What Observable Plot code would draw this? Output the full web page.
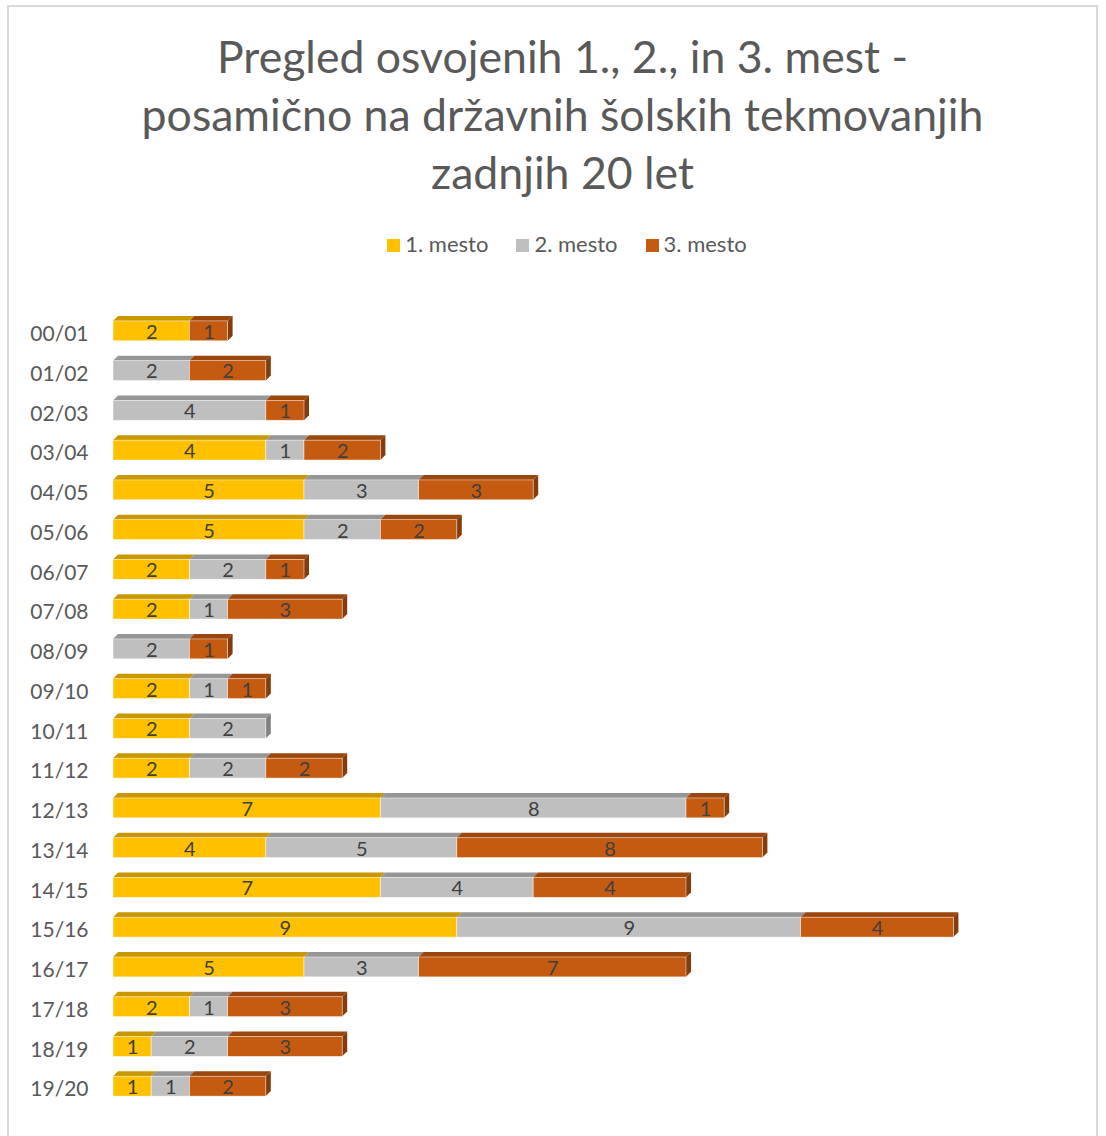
<!DOCTYPE html>
<html>
<head>
<meta charset="utf-8">
<script src="https://cdn.jsdelivr.net/npm/d3@7"></script>
<script src="https://cdn.jsdelivr.net/npm/@observablehq/plot@0.6"></script>
<style>
  html, body { margin: 0; padding: 0; background: #fff; }
  #wrap { position: relative; width: 1106px; height: 1136px; overflow: hidden; font-family: Lato, "Open Sans", sans-serif; }
  #frame { position: absolute; left: 7px; top: 5px; width: 1091px; height: 1140px; border: 2px solid #d9d9d9; box-sizing: border-box; }
  #title { position: absolute; left: 0; top: 27px; width: 1125px; text-align: center; color: #595959; font-size: 44.6px; line-height: 58px; }
  #legend { position: absolute; left: 0; top: 230px; width: 1134px; text-align: center; color: #595959; font-size: 22px; }
  #legend span.item { margin: 0 14px; white-space: nowrap; }
  #legend span.sw { display: inline-block; width: 13px; height: 13px; margin-right: 5px; vertical-align: 0px; }
  #chart { position: absolute; left: 0; top: 0; }
  .topface rect { transform-box: fill-box; transform-origin: left bottom; transform: skewX(-45deg); }
  .sideface rect { transform-box: fill-box; transform-origin: left top; transform: skewY(-45deg); }
</style>
</head>
<body>
<div id="wrap">
  <div id="frame"></div>
  <div id="title">Pregled osvojenih 1., 2., in 3. mest -<br>posamično na državnih šolskih tekmovanjih<br>zadnjih 20 let</div>
  <div id="legend"></div>
  <div id="chart"></div>
</div>
<script>
const years = ["00/01","01/02","02/03","03/04","04/05","05/06","06/07","07/08","08/09","09/10",
               "10/11","11/12","12/13","13/14","14/15","15/16","16/17","17/18","18/19","19/20"];
const places = ["1. mesto", "2. mesto", "3. mesto"];
const first  = [2,0,0,4,5,5,2,2,0,2,2,2,7,4,7,9,5,2,1,1];
const second = [0,2,4,1,3,2,2,1,2,1,2,2,8,5,4,9,3,1,2,1];
const third  = [1,2,1,2,3,2,1,3,1,1,0,2,1,8,4,4,7,3,3,2];

const frontColors = ["#FFC000", "#BFBFBF", "#C55A11"];
const topColors   = ["#C99800", "#969696", "#9B460D"];
const sideColors  = ["#BF9000", "#808080", "#843C0C"];

const series = [first, second, third];
const rows = [];
const ends = [];
years.forEach((y, i) => {
  let acc = 0, last = null;
  series.forEach((s, k) => {
    const v = s[i];
    if (v > 0) {
      last = {year: y, place: places[k], k, value: v, x1: acc, x2: acc + v};
      rows.push(last);
    }
    acc += v;
  });
  ends.push({year: y, k: last.k, total: acc});
});

// legend
const legend = document.getElementById("legend");
places.forEach((p, k) => {
  const it = document.createElement("span");
  it.className = "item";
  it.innerHTML = `<span class="sw" style="background:${frontColors[k]}"></span>${p}`;
  legend.appendChild(it);
});

const W = 1106, H = 1136;
const yOpts = {type: "band", domain: years, range: [301, 1116], padding: 0.5, round: false};
const bw = Plot.scale({y: yOpts}).bandwidth;
const depth = 5;

const marks = [];
// top faces
places.forEach((p, k) => {
  marks.push(Plot.rectX(rows.filter(r => r.k === k), {
    x1: "x1", x2: "x2", y: "year",
    fill: topColors[k], insetTop: -depth, insetBottom: bw, className: "topface"
  }));
});
// side faces
[0, 1, 2].forEach(k => {
  marks.push(Plot.rectX(ends.filter(e => e.k === k), {
    x1: "total", x2: "total", y: "year",
    fill: sideColors[k], insetRight: -depth, className: "sideface"
  }));
});
// front faces
marks.push(Plot.barX(rows, {
  x1: "x1", x2: "x2", y: "year", fill: "place",
  stroke: "#ffffff", strokeOpacity: 0.6, strokeWidth: 0.75
}));
// value labels
marks.push(Plot.text(rows, {
  x: d => (d.x1 + d.x2) / 2, y: "year", text: d => String(d.value),
  fill: "#404040", fontSize: 20, dy: 1
}));
marks.push(Plot.axisY({tickSize: 0, tickPadding: 25, fontSize: 21, dy: 3}));

const chart = Plot.plot({
  width: W, height: H,
  marginLeft: 113, marginRight: 38, marginTop: 301, marginBottom: 20,
  style: {background: "transparent", color: "#595959", fontFamily: "Lato, 'Open Sans', sans-serif", overflow: "visible"},
  x: {domain: [0, 25], axis: null},
  y: {...yOpts, label: null, axis: null},
  color: {domain: places, range: frontColors},
  marks
});
document.getElementById("chart").appendChild(chart);
</script>
</body>
</html>
